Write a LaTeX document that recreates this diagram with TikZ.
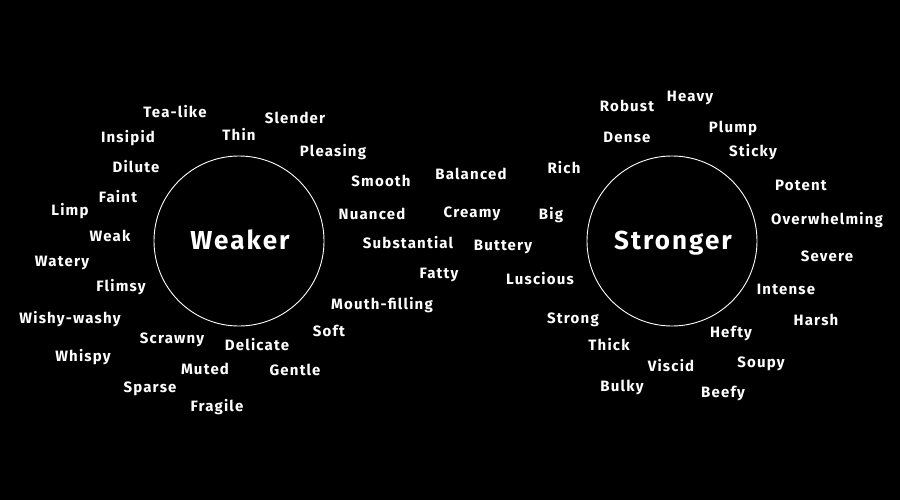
\documentclass[tikz,border=0pt]{standalone}
\usepackage{fontspec}
\setmainfont{Fira Sans}[LetterSpace=8]
\begin{document}
\begin{tikzpicture}[x=1pt,y=-1pt,
  w/.style={text=white,font=\fontsize{15}{17}\selectfont\bfseries,inner sep=0pt,anchor=base},
  big/.style={text=white,font=\fontsize{26}{29}\selectfont\bfseries,inner sep=0pt,anchor=base},
  ring/.style={draw=white,line width=0.9pt,circle,minimum size=170pt,inner sep=0pt}]
\fill[black] (0,0) rectangle (900,500);
\useasboundingbox (0,0) rectangle (900,500);
\node[ring] (cw) at (239,241) {};
\node[ring] (cs) at (672,241) {};
\node[big] (weaker) at (240,249) {Weaker};
\node[big] (stronger) at (673,249) {Stronger};
% left words
\node[w] (tealike) at (175,118) {Tea-like};
\node[w] (slender) at (295,124) {Slender};
\node[w] (insipid) at (128,143) {Insipid};
\node[w] (thin) at (239,141) {Thin};
\node[w] (pleasing) at (333,157) {Pleasing};
\node[w] (dilute) at (136,172) {Dilute};
\node[w] (smooth) at (381,186) {Smooth};
\node[w] (balanced) at (471,179) {Balanced};
\node[w] (rich) at (564,174) {Rich};
\node[w] (faint) at (118,202) {Faint};
\node[w] (limp) at (70,215) {Limp};
\node[w] (nuanced) at (372,219) {Nuanced};
\node[w] (creamy) at (472,217) {Creamy};
\node[w] (big) at (551,219) {Big};
\node[w] (weak) at (110,241) {Weak};
\node[w] (substantial) at (408,248) {Substantial};
\node[w] (buttery) at (503,250) {Buttery};
\node[w] (watery) at (62,266) {Watery};
\node[w] (fatty) at (439,278) {Fatty};
\node[w] (luscious) at (540,284) {Luscious};
\node[w] (flimsy) at (121,291) {Flimsy};
\node[w] (mouth) at (382,309) {Mouth-filling};
\node[w] (wishy) at (70,323) {Wishy-washy};
\node[w] (soft) at (329,336) {Soft};
\node[w] (scrawny) at (172,343) {Scrawny};
\node[w] (delicate) at (257,350) {Delicate};
\node[w] (whispy) at (83,361) {Whispy};
\node[w] (muted) at (205,374) {Muted};
\node[w] (gentle) at (295,375) {Gentle};
\node[w] (sparse) at (150,392) {Sparse};
\node[w] (fragile) at (217,411) {Fragile};
% right words
\node[w] (heavy) at (690,102) {Heavy};
\node[w] (robust) at (627,112) {Robust};
\node[w] (plump) at (733,133) {Plump};
\node[w] (dense) at (627,143) {Dense};
\node[w] (sticky) at (753,157) {Sticky};
\node[w] (potent) at (801,190) {Potent};
\node[w] (overwhelming) at (827,225) {Overwhelming};
\node[w] (severe) at (827,261) {Severe};
\node[w] (intense) at (786,294) {Intense};
\node[w] (harsh) at (816,325) {Harsh};
\node[w] (strong) at (573,323) {Strong};
\node[w] (hefty) at (731,337) {Hefty};
\node[w] (thick) at (609,350) {Thick};
\node[w] (soupy) at (761,367) {Soupy};
\node[w] (viscid) at (671,371) {Viscid};
\node[w] (bulky) at (622,391) {Bulky};
\node[w] (beefy) at (723,397) {Beefy};
\end{tikzpicture}
\end{document}
